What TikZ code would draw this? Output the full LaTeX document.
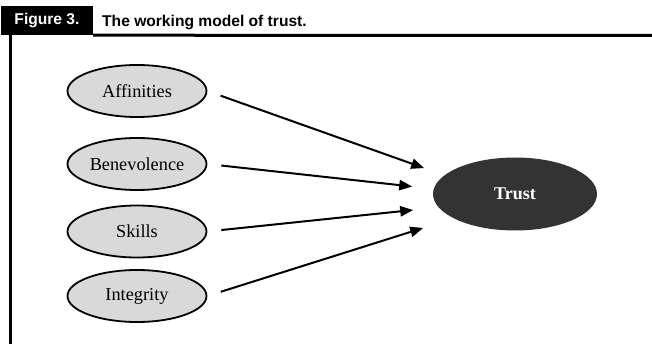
\documentclass[tikz,border=0pt]{standalone}
\usepackage{fontspec}
\setmainfont{Liberation Serif}
\newfontfamily\headfont{Liberation Sans}
\usepackage{tikz}
\usetikzlibrary{shapes,arrows}

\begin{document}
\begin{tikzpicture}[x=1pt,y=-1pt]
\useasboundingbox (0,0) rectangle (652,344);
\definecolor{factorColor}{RGB}{217,217,217}
\definecolor{trustColor}{RGB}{51,51,51}
\tikzset{factor/.style={ellipse,draw=black,line width=1.8pt,fill=factorColor,inner sep=0pt,minimum width=139pt,minimum height=52pt,font=\fontsize{18.3}{20}\selectfont}}
% header
\node[fill=black,text=white,inner sep=0pt,minimum width=92pt,minimum height=29pt,font=\headfont\bfseries\fontsize{15.6}{18}\selectfont] (fig) at (47,20.5) {Figure 3.};
\node[anchor=base west,inner sep=0pt,font=\headfont\bfseries\fontsize{15.6}{18}\selectfont] (title) at (102,27) {The working model of trust.};
\draw[line width=3pt] (fig.south east) -- (652,35.5);
\draw[line width=3pt] (10.5,34) -- (10.5,344);
% factors
\node[factor] (aff) at (137,91) {Affinities};
\node[factor] (ben) at (137,164) {Benevolence};
\node[factor] (ski) at (137,231.5) {Skills};
\node[factor] (int) at (137,296) {Integrity};
\node[ellipse,fill=trustColor,text=white,inner sep=0pt,minimum width=164pt,minimum height=73pt,font=\bfseries\fontsize{18}{20}\selectfont] (trust) at (515,194) {Trust};
% arrows
\coordinate (aff tip) at (424,168);
\coordinate (ben tip) at (412,186.5);
\coordinate (ski tip) at (413,210);
\coordinate (int tip) at (423,228);
\foreach \f in {aff,ben,ski,int}
  \draw[->,>=triangle 45,line width=2pt,shorten <=14pt] (\f.east) -- (\f\space tip);
\end{tikzpicture}
\end{document}
